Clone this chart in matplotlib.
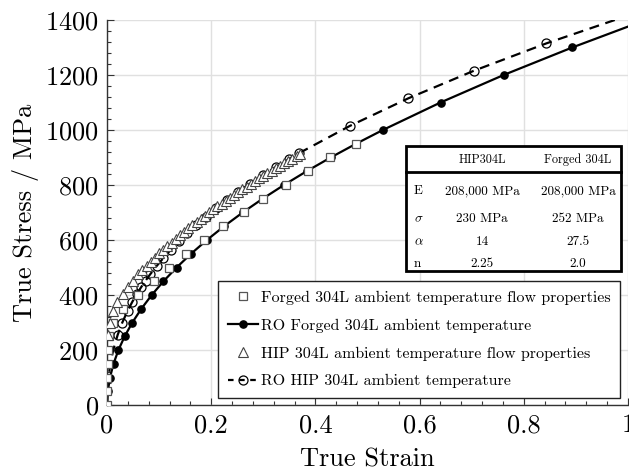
import matplotlib
matplotlib.use("Agg")
import matplotlib.pyplot as plt
from matplotlib.patches import Rectangle
from matplotlib.lines import Line2D
from matplotlib.ticker import MultipleLocator

plt.rcParams['font.family'] = ['cmr10', 'DejaVu Serif']
plt.rcParams['mathtext.fontset'] = 'cm'
plt.rcParams['axes.formatter.use_mathtext'] = True

# ---------------- data ----------------
# Forged 304L measured flow properties (squares)
forged_stress = [0, 50, 100, 150, 200, 250, 300, 350, 400, 450, 500, 550,
                 600, 650, 700, 750, 800, 850, 900, 950]
forged_strain = [0.0, 0.0003, 0.0007, 0.0013, 0.002, 0.004, 0.012, 0.030,
                 0.060, 0.090, 0.119, 0.151, 0.187, 0.222, 0.262, 0.300,
                 0.343, 0.386, 0.428, 0.478]

# RO fit, forged 304L (solid line, filled circles)
ro_forged_stress = [0, 50, 100, 150, 200, 250, 300, 350, 400, 450, 500, 550,
                    600, 650, 700, 750, 800, 850, 900, 950, 1000, 1100, 1200,
                    1300, 1376]
ro_forged_strain = [0.0, 0.00155, 0.00573, 0.01253, 0.02195, 0.03399, 0.04866,
                    0.06595, 0.08587, 0.10841, 0.13357, 0.16135, 0.19176,
                    0.22479, 0.26045, 0.29872, 0.33963, 0.38315, 0.42930,
                    0.47807, 0.52946, 0.64012, 0.76127, 0.89291, 1.0]

# HIP 304L measured flow properties (triangles)
hip_strain = [0.001, 0.005, 0.012, 0.020, 0.030, 0.040, 0.050, 0.060,
              0.068, 0.076, 0.084, 0.092, 0.100, 0.108, 0.116, 0.124, 0.132,
              0.140, 0.148, 0.156, 0.164, 0.172, 0.180, 0.188, 0.196, 0.204,
              0.212, 0.220, 0.228, 0.236, 0.244, 0.252, 0.260, 0.268, 0.276,
              0.284, 0.292, 0.300, 0.308, 0.316, 0.324, 0.332, 0.340, 0.348,
              0.356, 0.364, 0.370]
hip_stress = [255, 300, 343, 376, 403, 428, 452, 475,
              490, 505, 521, 536, 551, 564, 577, 590, 603,
              617, 630, 642, 653, 665, 677, 688, 700, 711,
              722, 732, 743, 753, 764, 774, 784, 794, 804,
              814, 824, 834, 843, 852, 861, 870, 879, 887,
              896, 905, 912]

# RO fit, HIP 304L (dashed line, open circles)
ro_hip_stress = [0, 50, 100, 150, 200, 255, 300, 343, 376, 403, 428, 452,
                 475, 505, 535, 565, 595, 625, 655, 685, 715, 745, 775, 805,
                 835, 865, 895, 915, 1015, 1115, 1215, 1315, 1420]
ro_hip_strain = [0.0, 0.00069, 0.00272, 0.00640, 0.01197, 0.02047, 0.02941,
                 0.03970, 0.04881, 0.05708, 0.06538, 0.07396, 0.08275,
                 0.09508, 0.10837, 0.12266, 0.13796, 0.15428, 0.17165,
                 0.19005, 0.20955, 0.23012, 0.25180, 0.27459, 0.29849,
                 0.32354, 0.34975, 0.36786, 0.46627, 0.57807, 0.70363,
                 0.84332, 1.00563]

table_cols = ["HIP304L", "Forged 304L"]
table_rows = ["E", r"$\sigma$", r"$\alpha$", "n"]
table_hip = ["208,000 MPa", "230 MPa", "14", "2.25"]
table_forged = ["208,000 MPa", "252 MPa", "27.5", "2.0"]

labels = ["Forged 304L ambient temperature flow properties",
          "RO Forged 304L ambient temperature",
          "HIP 304L ambient temperature flow properties",
          "RO HIP 304L ambient temperature"]

# ---------------- figure ----------------
W, H = 629, 474
fig = plt.figure(figsize=(W / 100, H / 100), dpi=100)
ax = fig.add_axes([107 / W, 1 - 405 / H, (628 - 107) / W, (405 - 20) / H])

ax.plot(ro_forged_strain, ro_forged_stress, '-', color='black', lw=1.6,
        marker='o', ms=5.2, mfc='black', mec='black',
        markevery=list(range(1, len(ro_forged_strain) - 1)), zorder=2)
ax.plot(forged_strain, forged_stress, linestyle='none', marker='s', ms=6.0,
        mfc='white', mec='#555555', mew=0.9, zorder=3)
ax.plot(ro_hip_strain, ro_hip_stress, '--', color='black', lw=1.6,
        dashes=(4.5, 3.0), marker='o', ms=6.5, mfc='none', mec='black',
        mew=0.9, markevery=list(range(5, len(ro_hip_strain) - 1)), zorder=2)
ax.plot(hip_strain, hip_stress, linestyle='none', marker='^', ms=6.5,
        mfc='white', mec='#444444', mew=0.8, zorder=3)

ax.set_xlim(0, 1)
ax.set_ylim(0, 1400)
ax.xaxis.set_major_locator(MultipleLocator(0.2))
ax.xaxis.set_minor_locator(MultipleLocator(0.04))
ax.yaxis.set_major_locator(MultipleLocator(200))
ax.yaxis.set_minor_locator(MultipleLocator(40))
ax.set_xticks([0, 0.2, 0.4, 0.6, 0.8, 1.0])
ax.set_xticklabels(["0", "0.2", "0.4", "0.6", "0.8", "1"])
ax.tick_params(which='both', direction='in', colors='#333333',
               labelcolor='black', labelsize=19, width=0.8)
ax.tick_params(which='major', length=5, pad=6)
ax.tick_params(which='minor', length=3)
ax.tick_params(top=False, right=False)
ax.grid(True, which='major', color='#e0e0e0', lw=1.0, zorder=0)
ax.set_axisbelow(True)
for s in ['top', 'right']:
    ax.spines[s].set_visible(False)
for s in ['left', 'bottom']:
    ax.spines[s].set_color('#333333')
    ax.spines[s].set_linewidth(1.0)

ax.set_xlabel("True Strain", fontsize=19, labelpad=8)
ax.set_ylabel("True Stress / MPa", fontsize=19, labelpad=4)

# legend
handles = [
    Line2D([], [], linestyle='none', marker='s', ms=6.0, mfc='white',
           mec='#555555', mew=0.9),
    Line2D([], [], color='black', lw=1.6, marker='o', ms=5.2, mfc='black',
           mec='black'),
    Line2D([], [], linestyle='none', marker='^', ms=6.5, mfc='white',
           mec='#444444', mew=0.8),
    Line2D([], [], color='black', lw=1.6, linestyle='--', dashes=(2.5, 2.5),
           marker='o', ms=6.5, mfc='none', mec='black', mew=0.9),
]
leg = ax.legend(handles, labels, loc='lower right',
                bbox_to_anchor=(620 / W, 1 - 398 / H),
                bbox_transform=fig.transFigure, borderaxespad=0,
                fontsize=11.5, frameon=True, fancybox=False,
                edgecolor='#222222', framealpha=1, handlelength=1.9,
                handletextpad=0.15, labelspacing=0.85, borderpad=0.6)
leg.get_frame().set_linewidth(1.0)

# parameter table
tx0, tx1 = 406 / W, 621 / W
ty_top, ty_bot = 1 - 146 / H, 1 - 271 / H
fig.add_artist(Rectangle((tx0, ty_bot), tx1 - tx0, ty_top - ty_bot,
                         transform=fig.transFigure, facecolor='white',
                         edgecolor='black', lw=2.0, zorder=5))
fig.add_artist(Line2D([tx0, tx1], [1 - 172 / H, 1 - 172 / H],
                      transform=fig.transFigure, color='black', lw=2.0,
                      zorder=6))
col_x = [482 / W, 578 / W]
head_y = 1 - 160 / H
for cx, ct in zip(col_x, table_cols):
    fig.text(cx, head_y, ct, ha='center', va='center', fontsize=8.8, zorder=7)
row_y = [1 - 191 / H, 1 - 219 / H, 1 - 242 / H, 1 - 264 / H]
for ry, rl, vh, vf in zip(row_y, table_rows, table_hip, table_forged):
    fig.text(414 / W, ry, rl, ha='left', va='center', fontsize=9.5, zorder=7)
    fig.text(col_x[0], ry, vh, ha='center', va='center', fontsize=9.5,
             zorder=7)
    fig.text(col_x[1], ry, vf, ha='center', va='center', fontsize=9.5,
             zorder=7)

fig.savefig("out.png", dpi=100)
